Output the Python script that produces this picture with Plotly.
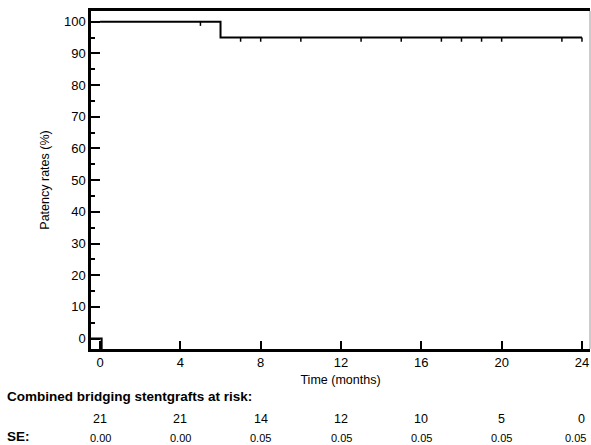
import plotly.graph_objects as go

# Kaplan-Meier step data
km_time = [0, 6, 24]
km_surv = [100, 95, 95]

# Censor marks (months)
censor_times = [5, 7, 8, 10, 13, 15, 17, 18, 19, 20, 23, 24]

# Initial artefact corner at the origin
start_x = [-0.5, 0.08, 0.08]
start_y = [0, 0, -3.3]

# Table below the axis
risk_times = [0, 4, 8, 12, 16, 20, 24]
at_risk = [21, 21, 14, 12, 10, 5, 0]
se_vals = ["0.00", "0.00", "0.05", "0.05", "0.05", "0.05", "0.05"]

x_ticks = [0, 4, 8, 12, 16, 20, 24]
y_ticks = [0, 10, 20, 30, 40, 50, 60, 70, 80, 90, 100]

CENSOR_LEN = 1.3  # tick length in y units (style)


def surv_at(t):
    s = km_surv[0]
    for tt, ss in zip(km_time, km_surv):
        if t >= tt:
            s = ss
    return s


cx, cy = [], []
for t in censor_times:
    s = surv_at(t)
    cx += [t, t, None]
    cy += [s, s - CENSOR_LEN, None]

FONT = "Liberation Sans, Arial, sans-serif"

fig = go.Figure()
fig.add_trace(go.Scatter(x=km_time, y=km_surv, mode="lines", line_shape="hv",
                         line=dict(color="black", width=2), hoverinfo="skip"))
fig.add_trace(go.Scatter(x=start_x, y=start_y, mode="lines",
                         line=dict(color="black", width=2), hoverinfo="skip"))
fig.add_trace(go.Scatter(x=cx, y=cy, mode="lines", connectgaps=False,
                         line=dict(color="black", width=1.5), hoverinfo="skip"))

fig.update_layout(
    width=591, height=445,
    margin=dict(l=91, r=1, t=11, b=96),
    paper_bgcolor="white", plot_bgcolor="white",
    showlegend=False,
    font=dict(family=FONT, color="black", size=12),
)
fig.update_xaxes(
    range=[-0.45, 24.4], tickvals=x_ticks, ticks="inside", ticklen=8, tickwidth=2,
    tickcolor="black", showline=True, linecolor="black", linewidth=2.5, mirror=True,
    showgrid=False, zeroline=False, tickfont=dict(size=13),
    title=dict(text="Time (months)", font=dict(size=12.5), standoff=6),
)
fig.update_yaxes(
    range=[-3.3, 103.4], tickvals=y_ticks, ticks="inside", ticklen=9, tickwidth=2,
    tickcolor="black", showline=True, linecolor="black", linewidth=2.5,
    showgrid=False, zeroline=False, tickfont=dict(size=13),
    minor=dict(dtick=5, ticks="inside", ticklen=4, tickwidth=1.5, tickcolor="black"),
    title=dict(text="Patency rates (%)", font=dict(size=12.5), standoff=12),
)
# thin right border
fig.add_shape(type="line", xref="paper", yref="paper", x0=1, x1=1, y0=0, y1=1,
              line=dict(color="#999999", width=1))

fig.add_annotation(text="<b>Combined bridging stentgrafts at risk:</b>", xref="paper", yref="paper",
                   x=-0.172, y=-0.142, xanchor="left", yanchor="middle", showarrow=False,
                   font=dict(size=13.5))
fig.add_annotation(text="<b>SE:</b>", xref="paper", yref="paper",
                   x=-0.172, y=-0.258, xanchor="left", yanchor="middle", showarrow=False,
                   font=dict(size=13.5))
for i, (t, n, s) in enumerate(zip(risk_times, at_risk, se_vals)):
    last = i == len(risk_times) - 1
    fig.add_annotation(text=str(n), x=t, xref="x", yref="paper", y=-0.207,
                       xanchor="center", yanchor="middle", showarrow=False, font=dict(size=12.5))
    fig.add_annotation(text=s, x=t, xref="x", yref="paper", y=-0.262,
                       xanchor="center", yanchor="middle", showarrow=False, font=dict(size=11),
                       xshift=-6 if last else 0)

fig.write_html("out.html", config={"displayModeBar": False},
               post_script="document.body.style.margin='0px';document.body.style.overflow='hidden';")
